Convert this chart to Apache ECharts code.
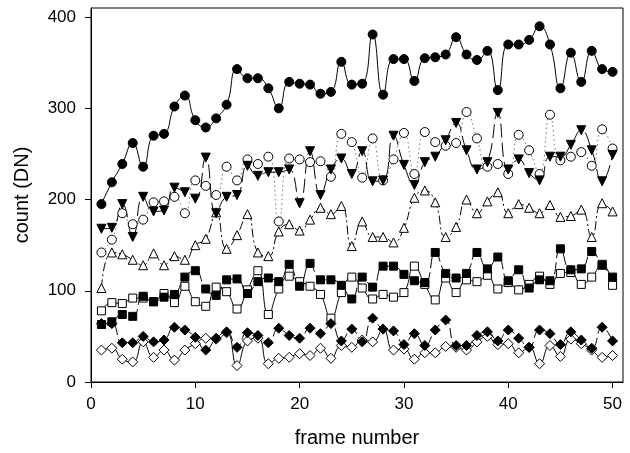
<!DOCTYPE html>
<html>
<head>
<meta charset="utf-8">
<script src="https://cdn.jsdelivr.net/npm/echarts@6/dist/echarts.min.js"></script>
<style>
html,body{margin:0;padding:0;background:#fff;}
#chart{width:630px;height:453px;}
</style>
</head>
<body>
<div id="chart"></div>
<script>
var frames = [1,2,3,4,5,6,7,8,9,10,11,12,13,14,15,16,17,18,19,20,21,22,23,24,25,26,27,28,29,30,31,32,33,34,35,36,37,38,39,40,41,42,43,44,45,46,47,48,49,50];

var filledCircle = [195,219,239,262,236,270,272,302,314,287,279,289,304,343,333,333,322,300,329,327,326,316,318,351,326,327,381,315,354,354,330,355,356,359,378,359,353,363,320,370,370,375,390,370,322,361,329,363,343,340];
var openCircle = [142,156,185,173,178,197,198,203,185,221,215,205,236,221,244,239,247,176,245,244,241,242,225,272,263,224,267,221,244,273,228,274,263,259,262,296,267,236,239,228,271,254,228,293,243,247,252,237,277,256];
var filledTriDown = [168,169,195,159,203,187,188,213,208,201,246,185,203,205,237,226,230,230,233,196,253,205,233,245,228,253,220,221,270,238,216,241,247,265,284,254,233,241,295,233,244,229,221,247,247,260,276,254,220,249];
var openTriUp = [103,142,140,134,128,141,128,138,134,150,157,186,146,161,184,142,138,165,173,166,178,191,184,193,149,176,159,159,153,169,202,210,197,159,170,200,185,198,208,185,195,191,185,194,181,182,189,159,196,187];
var filledSquare = [63,66,74,72,94,88,93,96,115,122,102,95,112,113,97,110,114,110,129,105,130,112,112,106,91,115,104,127,127,118,111,109,142,119,114,119,142,124,137,111,123,103,112,111,146,123,124,143,128,115];
var openSquare = [78,87,86,92,92,88,97,87,105,88,83,104,99,80,101,122,74,102,116,110,105,96,70,98,115,103,91,96,93,98,127,107,90,114,98,112,110,117,102,109,101,107,116,107,119,120,107,115,129,106];
var filledDiamond = [64,64,43,43,50,44,46,60,57,49,35,48,55,38,54,51,43,59,51,48,59,53,64,45,58,44,70,58,56,41,53,40,57,68,40,40,51,55,45,57,48,38,57,53,41,55,46,37,60,45];
var openDiamond = [35,37,25,22,44,27,35,24,35,42,48,47,54,18,45,48,20,26,27,31,29,37,26,40,38,46,44,58,35,36,25,32,32,39,38,35,44,50,41,42,32,38,20,40,28,47,42,35,27,29];

var yTicks = [0,100,200,300,400];
var xTicks = [0,10,20,30,40,50];

function pairs(vals){ return frames.map(function(f,i){ return [f, vals[i]]; }); }

function mk(name, vals, symbol, filled, size, lineType, lineColor, rotate){
  return {
    name: name, type: 'line', data: pairs(vals), smooth: 0.5,
    symbol: symbol, symbolSize: size, symbolRotate: rotate || 0,
    showAllSymbol: true,
    lineStyle: {color: lineColor || '#000', width: 1, type: lineType},
    itemStyle: {color: filled ? '#000' : '#fff', borderColor: '#000', borderWidth: 1, opacity: 1},
    emphasis: {disabled: true},
    animation: false
  };
}

var chart = echarts.init(document.getElementById('chart'), null, {renderer: 'canvas'});
var font = 'Liberation Sans, Arial, sans-serif';
chart.setOption({
  backgroundColor: '#fff',
  animation: false,
  grid: {left: 91, right: 7, top: 8, bottom: 71, containLabel: false, outerBoundsMode: 'none', show: true, borderColor: '#000', borderWidth: 1, backgroundColor: 'transparent'},
  xAxis: {
    type: 'value', min: 0, max: 51, interval: 10,
    name: 'frame number', nameLocation: 'middle', nameGap: 46,
    nameTextStyle: {fontFamily: font, fontSize: 20, color: '#000'},
    axisLine: {show: true, lineStyle: {color: '#000', width: 1}},
    axisTick: {show: true, length: 6, lineStyle: {color: '#000'}, customValues: xTicks},
    axisLabel: {fontFamily: font, fontSize: 17, color: '#000', margin: 14, customValues: xTicks},
    splitLine: {show: false}
  },
  yAxis: {
    type: 'value', min: 0, max: 410, interval: 100,
    name: 'count (DN)', nameLocation: 'middle', nameGap: 59,
    nameTextStyle: {fontFamily: font, fontSize: 20, color: '#000'},
    axisLine: {show: true, lineStyle: {color: '#000', width: 1}},
    axisTick: {show: true, length: 6, lineStyle: {color: '#000'}, customValues: yTicks},
    axisLabel: {fontFamily: font, fontSize: 17, color: '#000', margin: 15, customValues: yTicks},
    splitLine: {show: false}
  },
  series: [
    mk('open triangle', openTriUp, 'triangle', false, 9, [9,3,2,3], '#000'),
    mk('open square', openSquare, 'rect', false, 8, 'solid', '#000'),
    mk('filled square', filledSquare, 'rect', true, 8, [12,4], '#000'),
    mk('open diamond', openDiamond, 'diamond', false, 10, 'solid', '#000'),
    mk('filled diamond', filledDiamond, 'diamond', true, 10, [10,4], '#000'),
    mk('open circle', openCircle, 'circle', false, 9, [1.5,3], '#777'),
    mk('filled triangle', filledTriDown, 'triangle', true, 9, [14,5], '#000', 180),
    mk('filled circle', filledCircle, 'circle', true, 9, 'solid', '#000')
  ]
});
</script>
</body>
</html>
